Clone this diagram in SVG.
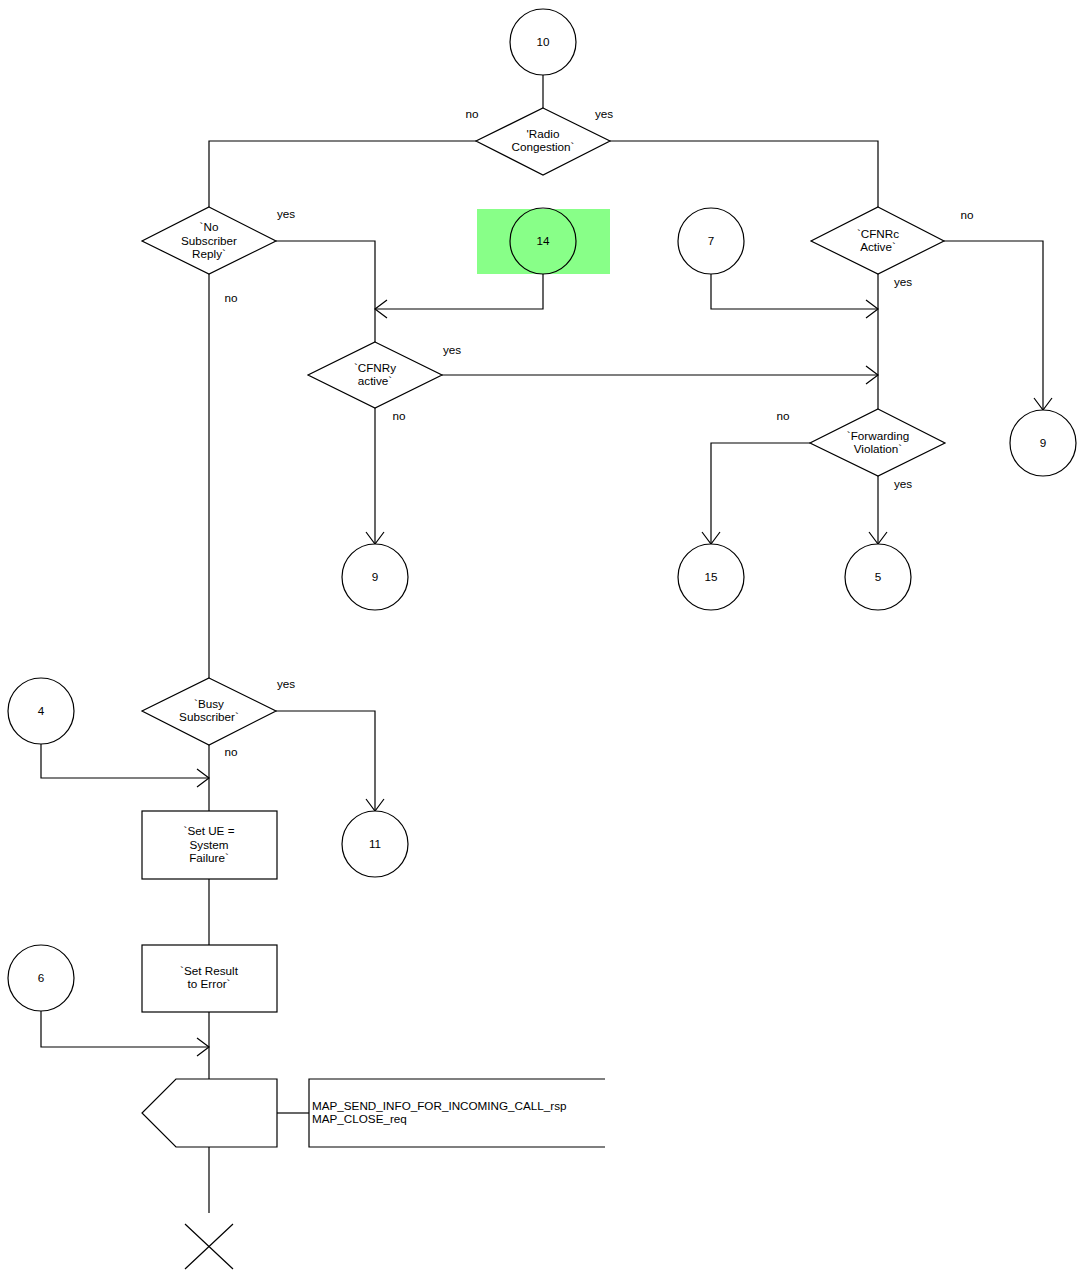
<svg xmlns="http://www.w3.org/2000/svg" width="1083" height="1271" viewBox="0 0 1083 1271">
<style>
.s{fill:#fff;stroke:#000;stroke-width:1.2}
.c{fill:none;stroke:#000;stroke-width:1.2}
text{font-family:"Liberation Sans",Arial,sans-serif;font-size:11.7px;fill:#000}
.m{text-anchor:middle}
</style>
<defs>
<marker id="a" markerUnits="userSpaceOnUse" markerWidth="30" markerHeight="30" viewBox="-15 -15 30 30" refX="0" refY="0" orient="auto">
<path d="M-12,-9 L0,0 L-12,9" fill="none" stroke="#000" stroke-width="1.2"/>
</marker>
</defs>
<rect x="477" y="209" width="133" height="65" fill="#88ff88"/>
<g id="connectors">
<path class="c" d="M543,75 V108"/>
<path class="c" d="M476,141 H209 V207"/>
<path class="c" d="M610,141 H878 V207"/>
<path class="c" d="M276,241 H375 V342"/>
<path class="c" d="M543,274 V309 H375" marker-end="url(#a)"/>
<path class="c" d="M711,274 V309 H878" marker-end="url(#a)"/>
<path class="c" d="M442,375 H878" marker-end="url(#a)"/>
<path class="c" d="M375,408 V544" marker-end="url(#a)"/>
<path class="c" d="M944,241 H1043 V410" marker-end="url(#a)"/>
<path class="c" d="M878,274 V409"/>
<path class="c" d="M810,443 H711 V544" marker-end="url(#a)"/>
<path class="c" d="M878,476 V544" marker-end="url(#a)"/>
<path class="c" d="M209,274 V678"/>
<path class="c" d="M276,711 H375 V811" marker-end="url(#a)"/>
<path class="c" d="M209,745 V811"/>
<path class="c" d="M41,744 V778 H209" marker-end="url(#a)"/>
<path class="c" d="M209,879 V945"/>
<path class="c" d="M209,1012 V1079"/>
<path class="c" d="M41,1011 V1047 H209" marker-end="url(#a)"/>
<path class="c" d="M277,1113 H309"/>
<path class="c" d="M209,1147 V1213"/>
</g>
<g id="labels">
<text class="m" x="472" y="118">no</text>
<text class="m" x="604" y="118">yes</text>
<text class="m" x="286" y="218">yes</text>
<text class="m" x="231" y="302">no</text>
<text class="m" x="452" y="354">yes</text>
<text class="m" x="399" y="420">no</text>
<text class="m" x="967" y="219">no</text>
<text class="m" x="903" y="286">yes</text>
<text class="m" x="783" y="420">no</text>
<text class="m" x="903" y="488">yes</text>
<text class="m" x="286" y="688">yes</text>
<text class="m" x="231" y="756">no</text>
</g>
<g id="c10"><circle class="s" cx="543" cy="42" r="33"/><text class="m" x="543" y="46">10</text></g>
<g id="d_radio"><polygon class="s" points="543,108 610,141 543,175 476,141"/><text class="m" x="543" y="138">'Radio</text><text class="m" x="543" y="151">Congestion`</text></g>
<g id="d_nsr"><polygon class="s" points="209,207 276,241 209,274 142,241"/><text class="m" x="209" y="231">`No</text><text class="m" x="209" y="245">Subscriber</text><text class="m" x="209" y="258">Reply`</text></g>
<g id="c14"><circle cx="543" cy="241" r="33" fill="none" stroke="#000" stroke-width="1.2"/><text class="m" x="543" y="245">14</text></g>
<g id="c7"><circle class="s" cx="711" cy="241" r="33"/><text class="m" x="711" y="245">7</text></g>
<g id="d_cfnrc"><polygon class="s" points="878,207 944,241 878,274 811,241"/><text class="m" x="878" y="238">`CFNRc</text><text class="m" x="878" y="251">Active`</text></g>
<g id="d_cfnry"><polygon class="s" points="375,342 442,375 375,408 308,375"/><text class="m" x="375" y="372">`CFNRy</text><text class="m" x="375" y="385">active`</text></g>
<g id="d_fv"><polygon class="s" points="878,409 945,443 878,476 810,443"/><text class="m" x="878" y="440">`Forwarding</text><text class="m" x="878" y="453">Violation`</text></g>
<g id="c9a"><circle class="s" cx="1043" cy="443" r="33"/><text class="m" x="1043" y="447">9</text></g>
<g id="c9b"><circle class="s" cx="375" cy="577" r="33"/><text class="m" x="375" y="581">9</text></g>
<g id="c15"><circle class="s" cx="711" cy="577" r="33"/><text class="m" x="711" y="581">15</text></g>
<g id="c5"><circle class="s" cx="878" cy="577" r="33"/><text class="m" x="878" y="581">5</text></g>
<g id="c4"><circle class="s" cx="41" cy="711" r="33"/><text class="m" x="41" y="715">4</text></g>
<g id="d_busy"><polygon class="s" points="209,678 276,711 209,745 142,711"/><text class="m" x="209" y="708">`Busy</text><text class="m" x="209" y="721">Subscriber`</text></g>
<g id="c11"><circle class="s" cx="375" cy="844" r="33"/><text class="m" x="375" y="848">11</text></g>
<g id="t_setue"><rect class="s" x="142" y="811" width="135" height="68"/><text class="m" x="209" y="835">`Set UE =</text><text class="m" x="209" y="849">System</text><text class="m" x="209" y="862">Failure`</text></g>
<g id="c6"><circle class="s" cx="41" cy="978" r="33"/><text class="m" x="41" y="982">6</text></g>
<g id="t_setres"><rect class="s" x="142" y="945" width="135" height="67"/><text class="m" x="209" y="975">`Set Result</text><text class="m" x="209" y="988">to Error`</text></g>
<g id="out"><polygon class="s" points="176,1079 277,1079 277,1147 176,1147 142,1113"/></g>
<g id="comment"><path class="c" d="M605,1079 H309 V1147 H605"/><text x="312" y="1110">MAP_SEND_INFO_FOR_INCOMING_CALL_rsp</text><text x="312" y="1123">MAP_CLOSE_req</text></g>
<g id="stop"><path class="c" d="M185,1224 L233,1269 M233,1224 L185,1269"/></g>
</svg>
